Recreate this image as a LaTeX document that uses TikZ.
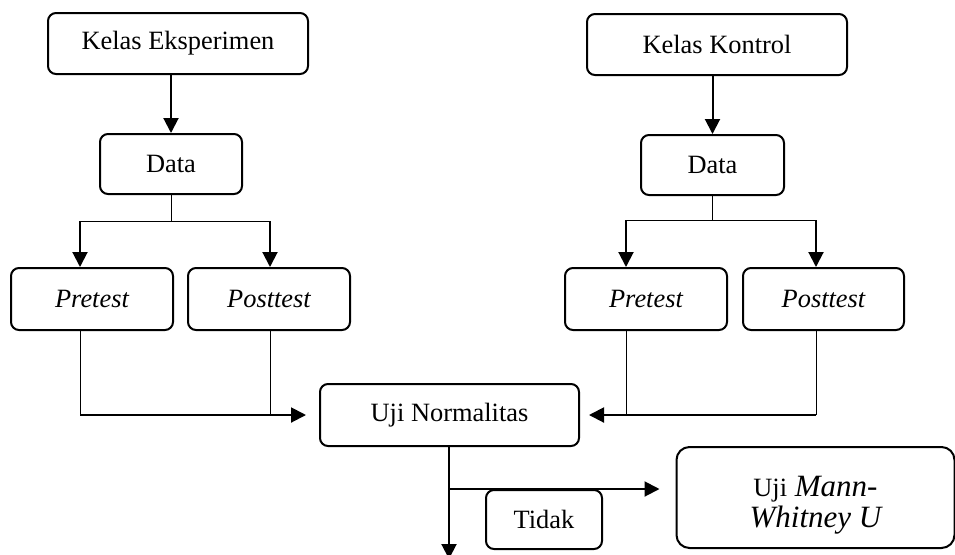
\documentclass[tikz,border=0pt]{standalone}
\usepackage{fontspec}
\setmainfont{Liberation Serif}
\usetikzlibrary{arrows.meta}

\begin{document}
\begin{tikzpicture}[x=0.5pt,y=-0.5pt,>={Triangle[length=7.5pt,width=7.5pt]},
  box/.style={draw,line width=1pt,rounded corners=4pt,align=center,inner sep=0pt,
    font=\fontsize{13.2}{15}\selectfont},
  thinline/.style={line width=0.5pt},
  thickline/.style={line width=1pt}]
\useasboundingbox (0,0) rectangle (955,554);
\node[box,minimum width=130pt,minimum height=30.5pt] (kelasE) at (178,43.5) {Kelas Eksperimen};
\node[box,minimum width=71pt,minimum height=30pt] (dataE) at (171,164) {Data};
\node[box,minimum width=81pt,minimum height=31pt] (preE) at (92,299) {\itshape Pretest};
\node[box,minimum width=81pt,minimum height=31pt] (postE) at (269,299) {\itshape Posttest};
\node[box,minimum width=130pt,minimum height=30.5pt] (kelasK) at (717,44.5) {Kelas Kontrol};
\node[box,minimum width=71.5pt,minimum height=30pt] (dataK) at (712.5,165) {Data};
\node[box,minimum width=81pt,minimum height=31pt] (preK) at (646,299) {\itshape Pretest};
\node[box,minimum width=80.5pt,minimum height=31pt] (postK) at (823.5,299) {\itshape Posttest};
\node[box,minimum width=129.5pt,minimum height=31pt] (uji) at (449.5,415) {Uji Normalitas};
\node[box,minimum width=58pt,minimum height=29.5pt] (tidak) at (544,519.5) {Tidak};
\node[box,rounded corners=6.5pt,minimum width=139pt,minimum height=50.5pt,
  font=\fontsize{15.5}{15.5}\selectfont\itshape] (mann) at (815.5,497.5)
  {\rule{0pt}{18pt}{\fontsize{13.2}{15.5}\selectfont\upshape Uji} Mann-\\Whitney U};

\coordinate (jEl) at (80,221);
\coordinate (jEr) at (270,221);
\coordinate (jKl) at (626,220);
\coordinate (jKr) at (816,220);
\coordinate (branch) at (449,489);
\coordinate (ujiEnd) at (449,559);

\draw[thickline,->] (dataE.north |- kelasE.south) -- (dataE.north);
\draw[thickline,->] (dataK.north |- kelasK.south) -- (dataK.north);

\draw[thinline] (dataE.south) -- (dataE.south |- jEl);
\draw[thinline] (jEl) -- (jEr);
\draw[thickline,->] (jEl) -- (jEl |- preE.north);
\draw[thickline,->] (jEr) -- (jEr |- postE.north);
\draw[thinline] (dataK.south) -- (dataK.south |- jKl);
\draw[thinline] (jKl) -- (jKr);
\draw[thickline,->] (jKl) -- (jKl |- preK.north);
\draw[thickline,->] (jKr) -- (jKr |- postK.north);

\draw[thinline] (jEl |- preE.south) -- (jEl |- uji.west);
\draw[thinline] (jEr |- postE.south) -- (jEr |- uji.west);
\draw[thickline,->,shorten >=6.5pt] (jEl |- uji.west) -- (uji.west);
\draw[thinline] (jKl |- preK.south) -- (jKl |- uji.east);
\draw[thinline] (jKr |- postK.south) -- (jKr |- uji.east);
\draw[thickline,->,shorten >=4.5pt] (jKr |- uji.east) -- (uji.east);

\draw[thickline,->] (uji.south -| branch) -- (ujiEnd);
\draw[thickline,->,shorten >=8pt] (branch) -- (branch -| mann.west);
\end{tikzpicture}
\end{document}
